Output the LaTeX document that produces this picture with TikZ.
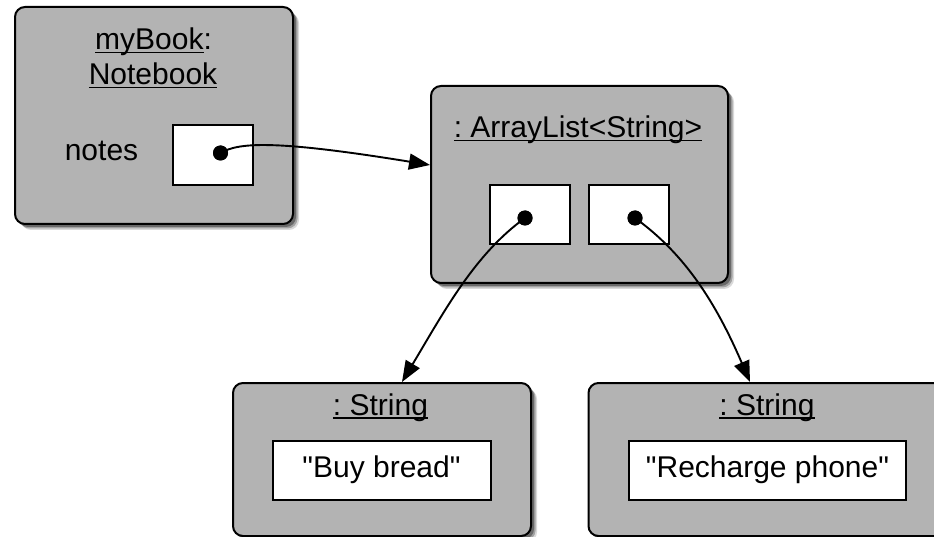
\documentclass[tikz,border=0pt]{standalone}
\usepackage{fontspec}
\setmainfont{Liberation Sans}[Ligatures=TeXOff]
\usetikzlibrary{shadows,arrows.meta}
\definecolor{boxgray}{RGB}{179,179,179}
\newcommand{\myul}[1]{\setbox0\hbox{#1}\rlap{\rule[-3.5pt]{\wd0}{1.3pt}}\box0}
\frenchspacing
\begin{document}
\begin{tikzpicture}[x=1pt,y=-1pt,
  objbox/.style={draw=black, line width=2pt, fill=boxgray, rounded corners=10pt, inner sep=0pt,
     general shadow={shadow xshift=6pt, shadow yshift=-6pt, fill=black, opacity=0.15},
     general shadow={shadow xshift=4.5pt, shadow yshift=-4.5pt, fill=black, opacity=0.25},
     general shadow={shadow xshift=3pt, shadow yshift=-3pt, fill=black, opacity=0.35}},
  slot/.style={draw=black, line width=2pt, fill=white, inner sep=0pt},
  lbl/.style={font=\fontsize{30}{36}\selectfont, inner sep=0pt, anchor=base, text=black},
  valtext/.style={font=\fontsize{30}{36}\selectfont, text height=21.5pt, text depth=7pt},
  dotnode/.style={circle, fill=black, minimum size=15pt, inner sep=0pt},
  link/.style={line width=1.9pt, -{Triangle[length=21pt,width=16pt]}},
]
\useasboundingbox (0,0) rectangle (934,537);
\fill[white] (0,0) rectangle (934,537);
\clip (0,0) rectangle (934,537);

% object boxes
\node[objbox, minimum width=278pt, minimum height=217pt] (book) at (154,115.5) {};
\node[objbox, minimum width=297pt, minimum height=197pt] (list) at (579.5,184.5) {};
\node[objbox, minimum width=298pt, minimum height=153pt] (str1) at (382,459.5) {};
\node[objbox, minimum width=357pt, minimum height=153pt] (str2) at (767,459.5) {};

% titles
\node[lbl] (booktitleA) at (153.5,50) {\myul{myBook}:};
\node[lbl] (booktitleB) at (153,85) {\myul{Notebook}};
\node[lbl] (notes) at (101.5,161) {notes};
\node[lbl] (listtitle) at (578,138) {\myul{: ArrayList<String>}};
\node[lbl] (strAtitle) at (380.5,415) {\myul{: String}};
\node[lbl] (strBtitle) at (767,415) {\myul{: String}};

% slots
\node[slot, minimum width=80pt, minimum height=60pt] (notesslot) at (213,155) {};
\node[slot, minimum width=80pt, minimum height=59pt] (slotA) at (530,214.5) {};
\node[slot, minimum width=80pt, minimum height=59pt] (slotB) at (629,214.5) {};
\node[slot, valtext, minimum width=218pt, minimum height=59pt] (valA) at (381.5,470) {"Buy bread"};
\node[slot, valtext, minimum width=277pt, minimum height=59pt] (valB) at (767.5,470) {"Recharge phone"};

% dots
\node[dotnode] (dot0) at (220.5,153) {};
\node[dotnode] (dotA) at (525,218) {};
\node[dotnode] (dotB) at (635,218) {};

% arrow end points on the box borders
\coordinate (listin) at (430,165);
\coordinate (strAin) at (402,382);
\coordinate (strBin) at (750,382);

% connectors
\draw[link] (dot0.center) .. controls (238,143) and (270,139) .. (listin);
\draw[link] (dotA.center) .. controls (475,254) and (445,310) .. (strAin);
\draw[link] (dotB.center) .. controls (685,254) and (716,303) .. (strBin);

% dots again on top
\node[dotnode] at (dot0) {};
\node[dotnode] at (dotA) {};
\node[dotnode] at (dotB) {};
\end{tikzpicture}
\end{document}
